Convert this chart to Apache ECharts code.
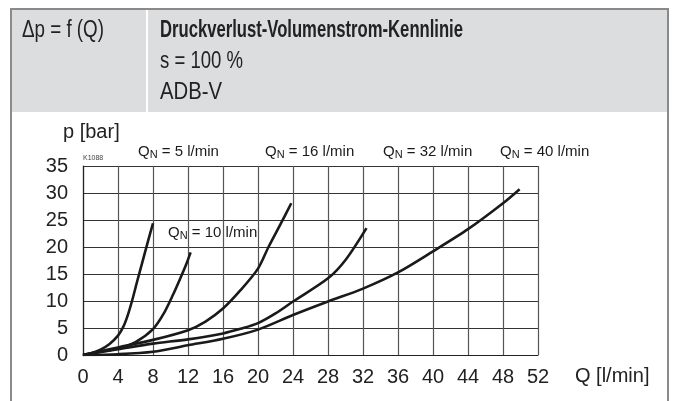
<!DOCTYPE html>
<html>
<head>
<meta charset="utf-8">
<script src="https://cdn.jsdelivr.net/npm/echarts@6/dist/echarts.min.js"></script>
<style>
html,body{margin:0;padding:0;background:#fff;}
#c{width:676px;height:401px;}
</style>
</head>
<body>
<div id="c"></div>
<script>
// Data
const xTicks = [0,4,8,12,16,20,24,28,32,36,40,44,48,52];
const yTicks = [0,5,10,15,20,25,30,35];
const seriesNames = ['QN = 5 l/min','QN = 10 l/min','QN = 16 l/min','QN = 32 l/min','QN = 40 l/min'];
const qn5  = [[0,0],[1,0.35],[2,1],[3,2],[4,3.6],[4.6,5.2],[5.1,7.3],[5.6,10],[6.2,13.7],[6.8,17.3],[7.4,20.9],[8,24.4]];
const qn10 = [[0,0],[2,0.6],[4,1.2],[6,2.4],[8,4.8],[9.2,7.6],[10.3,11.2],[11.2,14.5],[11.8,16.8],[12.3,19]];
const qn16 = [[0,0],[2,0.7],[4,1.4],[8,2.8],[12,4.6],[14,6.2],[16,8.6],[18,12],[20,16],[21.2,20],[22.5,24],[23.8,28.1]];
const qn32 = [[0,0],[4,1.05],[8,2.1],[12,2.9],[16,4.0],[18,4.85],[20,5.9],[22,7.7],[24,9.9],[28,14.2],[30,17.6],[32.4,23.5]];
const qn40 = [[0,0],[4,0.15],[8,0.6],[12,1.8],[16,3.0],[20,4.7],[24,7.4],[28,9.9],[32,12.3],[36,15.3],[40,19.2],[44,23.3],[48,28.1],[49.9,30.7]];
const curves = [qn5, qn10, qn16, qn32, qn40];

const chart = echarts.init(document.getElementById('c'), null, {renderer:'canvas'});
const lab = 'Liberation Sans, Arial, sans-serif';

const mctx = document.createElement('canvas').getContext('2d');
function narrowText(x, y, text, size, bold, targetW){
  mctx.font = (bold?'bold ':'') + size + 'px "Liberation Sans"';
  const w = mctx.measureText(text).width;
  return {type:'text', x:x, y:y, scaleX: targetW / w, originX:0, originY:0,
    style:{text:text, fontSize:size, fontWeight:bold?'bold':'normal', fontFamily:'Liberation Sans', fill:'#222', textVerticalAlign:'middle'}};
}

function qnLabel(x, y, num){
  return {type:'text', left:x, top:y, style:{
    text:'{q|Q}{n|N}{q| = '+num+' l/min}',
    rich:{q:{fontSize:15, fontFamily:lab, fill:'#1a1a1a'}, n:{fontSize:11, fontFamily:lab, fill:'#1a1a1a', padding:[6,0,0,0]}}
  }};
}

chart.setOption({
  animation:false,
  backgroundColor:'#fff',
  grid:{left:83, right:138, top:166, bottom:46},
  xAxis:{type:'value', min:0, max:52, interval:4,
    axisLine:{show:true, lineStyle:{color:'#222', width:1.2}},
    axisTick:{show:false},
    axisLabel:{fontSize:20, fontFamily:lab, color:'#222', margin:12, formatter:v=>xTicks.includes(v)?String(v):''},
    splitLine:{show:true, lineStyle:{color:'#555', width:1.2}}
  },
  yAxis:{type:'value', min:0, max:35, interval:5,
    axisLine:{show:true, lineStyle:{color:'#222', width:1.2}},
    axisTick:{show:false},
    axisLabel:{fontSize:20, fontFamily:lab, color:'#222', margin:15, formatter:v=>yTicks.includes(v)?String(v):''},
    splitLine:{show:true, lineStyle:{color:'#333', width:1.2}}
  },
  series: curves.map((d,i)=>({
    name:seriesNames[i], type:'line', data:d, smooth:0.3, showSymbol:false,
    lineStyle:{color:'#1a1a1a', width:2.6}, z:5
  })),
  graphic:[
    {type:'rect', shape:{x:11, y:9, width:657, height:103}, style:{fill:'#dcdddf'}, z:-1},
    {type:'line', shape:{x1:11, y1:9, x2:668, y2:9}, style:{stroke:'#8a8a8a', lineWidth:2}},
    {type:'line', shape:{x1:11, y1:8, x2:11, y2:401}, style:{stroke:'#8a8a8a', lineWidth:2}},
    {type:'line', shape:{x1:668, y1:8, x2:668, y2:401}, style:{stroke:'#8a8a8a', lineWidth:2}},
    {type:'line', shape:{x1:147, y1:10, x2:147, y2:112}, style:{stroke:'#ffffff', lineWidth:2}},
    narrowText(22, 31, 'Δp = f (Q)', 23, false, 82),
    narrowText(160, 31, 'Druckverlust-Volumenstrom-Kennlinie', 23, true, 303),
    narrowText(160, 62, 's = 100 %', 23, false, 83),
    narrowText(160, 93, 'ADB-V', 23, false, 62),
    {type:'text', left:63, top:122, style:{text:'p [bar]', fontSize:20, fontFamily:lab, fill:'#222'}},
    {type:'text', left:575, top:366, style:{text:'Q [l/min]', fontSize:20, fontFamily:lab, fill:'#222'}},
    {type:'text', left:83, top:155, style:{text:'K1088', fontSize:7, fontFamily:lab, fill:'#444'}},
    qnLabel(138, 144, '5'),
    qnLabel(265, 144, '16'),
    qnLabel(383, 144, '32'),
    qnLabel(500, 144, '40'),
    qnLabel(168, 225, '10')
  ]
});
</script>
</body>
</html>
